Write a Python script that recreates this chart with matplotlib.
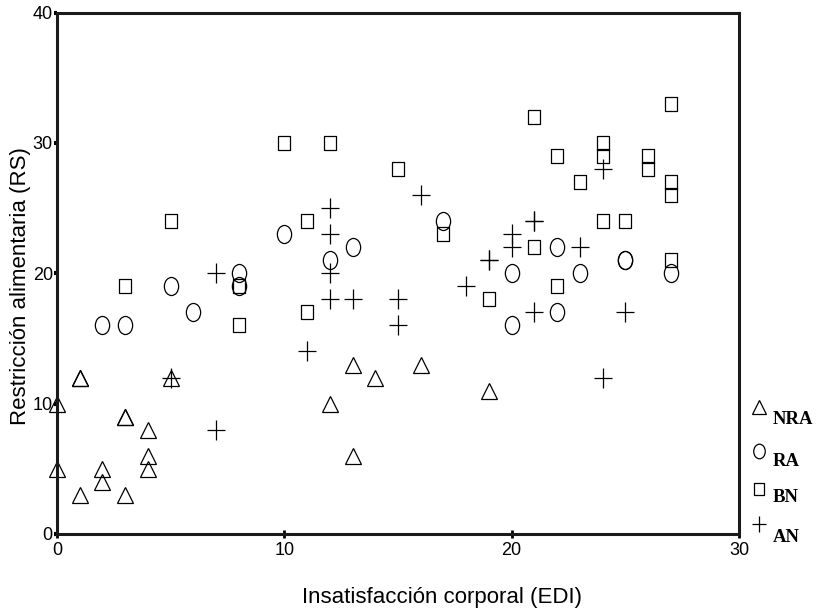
import matplotlib
matplotlib.use("Agg")
import matplotlib.pyplot as plt
from matplotlib.path import Path
from matplotlib.transforms import Affine2D
from matplotlib.lines import Line2D

plt.rcParams['font.family'] = ['Liberation Sans', 'DejaVu Sans']

# ---- data (EDI body dissatisfaction vs RS restraint) ----
nra_x = [0, 0, 1, 1, 1, 2, 2, 3, 3, 3, 4, 4, 4, 5, 12, 13, 13, 14, 16, 19]
nra_y = [10, 5, 12, 12, 3, 5, 4, 9, 9, 3, 8, 6, 5, 12, 10, 13, 6, 12, 13, 11]

ra_x = [2, 3, 5, 6, 8, 8, 10, 12, 13, 17, 20, 20, 22, 22, 23, 25, 25, 27]
ra_y = [16, 16, 19, 17, 20, 19, 23, 21, 22, 24, 20, 16, 22, 17, 20, 21, 21, 20]

bn_x = [3, 5, 8, 8, 10, 11, 11, 12, 15, 17, 19, 21, 21, 22, 22, 23, 24, 24, 24,
        25, 26, 26, 27, 27, 27, 27]
bn_y = [19, 24, 19, 16, 30, 24, 17, 30, 28, 23, 18, 32, 22, 29, 19, 27, 30, 29, 24,
        24, 29, 28, 33, 27, 26, 21]

an_x = [5, 7, 7, 11, 12, 12, 12, 12, 13, 15, 15, 16, 18, 19, 19, 20, 20, 21, 21,
        21, 23, 24, 24, 25]
an_y = [12, 20, 8, 14, 25, 23, 20, 18, 18, 18, 16, 26, 19, 21, 21, 23, 22, 24, 24,
        17, 22, 28, 12, 17]

groups = ['NRA', 'RA', 'BN', 'AN']
x_ticks = [0, 10, 20, 30]
y_ticks = [0, 10, 20, 30, 40]

# ---- marker shapes (slightly tall, as in the original) ----
ellipse = Affine2D().scale(0.79, 1.0).transform_path(Path.unit_circle())
rect = Path([(-0.79, -1), (0.79, -1), (0.79, 1), (-0.79, 1), (-0.79, -1)],
            [Path.MOVETO, Path.LINETO, Path.LINETO, Path.LINETO, Path.CLOSEPOLY])
plus = Path([(-0.85, 0), (0.85, 0), (0, -1), (0, 1)],
            [Path.MOVETO, Path.LINETO, Path.MOVETO, Path.LINETO])

styles = {
    'NRA': dict(marker='^', ms=11.3),
    'RA': dict(marker=ellipse, ms=13.0),
    'BN': dict(marker=rect, ms=10.4),
    'AN': dict(marker=plus, ms=15.0),
}
series = {'NRA': (nra_x, nra_y), 'RA': (ra_x, ra_y), 'BN': (bn_x, bn_y), 'AN': (an_x, an_y)}

fig = plt.figure(figsize=(8.17, 6.13), dpi=100)
ax = fig.add_axes([57 / 817, 1 - 534 / 613, (739 - 57) / 817, (534 - 12.5) / 613])

for g in groups:
    xs, ys = series[g]
    ax.plot(xs, ys, linestyle='none', mfc='none', mec='black', mew=0.9,
            clip_on=False, **styles[g])

ax.set_xlim(0, 30)
ax.set_ylim(0, 40)
ax.set_xticks(x_ticks)
ax.set_yticks(y_ticks)
ax.set_xticklabels([str(v) for v in x_ticks])
ax.set_yticklabels([str(v) for v in y_ticks])

for s in ax.spines.values():
    s.set_linewidth(2.2)
    s.set_color('#1a1a1a')

ax.tick_params(axis='x', direction='inout', length=6, width=2, labelsize=13, pad=3,
               colors='black')
ax.tick_params(axis='y', direction='out', length=2.5, width=3, labelsize=13, pad=0.5,
               colors='black')

fig.text(442 / 817, 1 - 598 / 613, 'Insatisfacción corporal (EDI)', fontsize=16,
         ha='center', va='center')
fig.text(21 / 817, 1 - 286 / 613, 'Restricción alimentaria (RS)', fontsize=16,
         ha='center', va='center', rotation=90)

# ---- legend drawn at the right ----
leg_marker_y = [407, 451, 489, 524]
leg_text_y = [419, 461, 498, 537]
leg_ms = {'NRA': 9.5, 'RA': 10.5, 'BN': 9.2, 'AN': 12.0}
for g, my, ty in zip(groups, leg_marker_y, leg_text_y):
    st = dict(styles[g])
    st['ms'] = leg_ms[g]
    fig.add_artist(Line2D([759 / 817], [1 - my / 613], transform=fig.transFigure,
                          linestyle='none', mfc='none', mec='black', mew=0.9, **st))
    fig.text(773 / 817, 1 - ty / 613, g, fontsize=13.5, fontweight='bold',
             family=['Liberation Serif', 'DejaVu Serif'], ha='left', va='center')

fig.savefig('out.png', dpi=100, facecolor='white')
